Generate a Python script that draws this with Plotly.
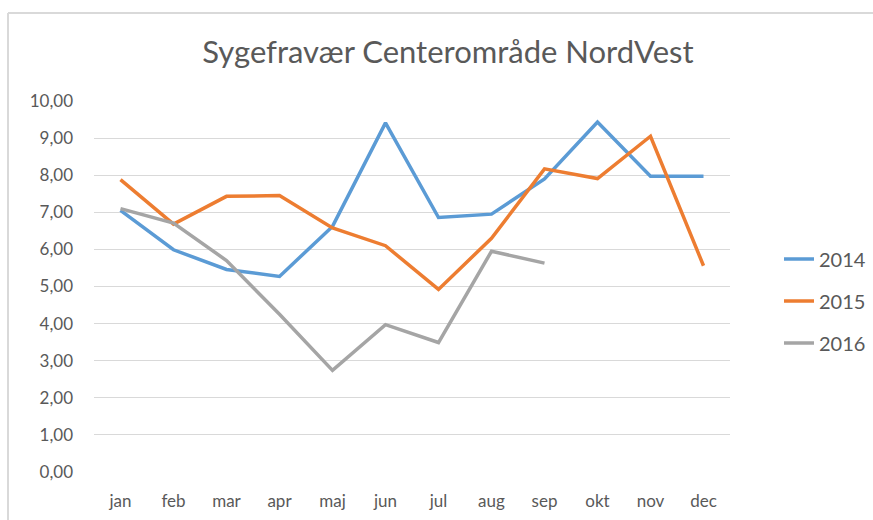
import plotly.graph_objects as go

months = ["jan", "feb", "mar", "apr", "maj", "jun", "jul", "aug", "sep", "okt", "nov", "dec"]
y2014 = [7.05, 5.99, 5.46, 5.27, 6.62, 9.41, 6.86, 6.95, 7.90, 9.43, 7.97, 7.97]
y2015 = [7.88, 6.68, 7.43, 7.45, 6.58, 6.10, 4.92, 6.30, 8.17, 7.91, 9.05, 5.56]
y2016 = [7.10, 6.71, 5.70, 4.25, 2.74, 3.97, 3.49, 5.95, 5.63]
yticks = [0, 1, 2, 3, 4, 5, 6, 7, 8, 9, 10]
ytick_labels = ["0,00", "1,00", "2,00", "3,00", "4,00", "5,00", "6,00", "7,00", "8,00", "9,00", "10,00"]

series = [("2014", y2014, "#5B9BD5"), ("2015", y2015, "#ED7D31"), ("2016", y2016, "#A5A5A5")]

fig = go.Figure()
for name, vals, col in series:
    fig.add_trace(go.Scatter(
        x=months[:len(vals)], y=vals, name=name, mode="lines", legendgroup=name,
        line=dict(color=col, width=3.5),
    ))

# plot area: x 94..730, y 101..472
L, R, T, B = 94, 730, 101, 472
W, H = 873, 520
pw, ph = R - L, B - T

def px_x(px):
    return (px - L) / pw

def px_y(py):
    return (B - py) / ph

fig.update_layout(
    width=W, height=H,
    margin=dict(l=L, r=W - R, t=T, b=H - B, autoexpand=False),
    paper_bgcolor="white", plot_bgcolor="white",
    font=dict(family="Lato, 'Open Sans', sans-serif", color="#595959", size=16),
    title=dict(text="Sygefravær Centerområde NordVest", x=px_x(448), xref="paper",
               y=1 - 52 / H, yref="container", xanchor="center", yanchor="middle",
               font=dict(size=31, color="#595959")),
    xaxis=dict(type="category", categoryorder="array", categoryarray=months,
               range=[-0.5, 11.5], showgrid=False, zeroline=False, showline=False,
               ticks="", ticklabelstandoff=17, tickfont=dict(size=17, color="#595959")),
    yaxis=dict(range=[0, 10], tickvals=yticks, ticktext=ytick_labels,
               showgrid=True, gridcolor="#D9D9D9", gridwidth=1, zeroline=False,
               showline=False, ticks="", ticklabelstandoff=20,
               tickfont=dict(size=17, color="#595959")),
    legend=dict(x=px_x(779), xanchor="left", y=px_y(301), yanchor="middle",
                font=dict(size=20, color="#595959"), tracegroupgap=13,
                bgcolor="rgba(0,0,0,0)"),
    showlegend=True,
)

fig.add_shape(type="line", xref="paper", yref="paper",
              x0=px_x(8), x1=px_x(880), y0=px_y(13), y1=px_y(13),
              line=dict(color="#D9D9D9", width=2))
fig.add_shape(type="line", xref="paper", yref="paper",
              x0=px_x(8), x1=px_x(8), y0=px_y(13), y1=px_y(530),
              line=dict(color="#D9D9D9", width=2))

fig.write_html("out.html", config={"displayModeBar": False},
               post_script="document.body.style.margin='0px';document.body.style.overflow='hidden';")
